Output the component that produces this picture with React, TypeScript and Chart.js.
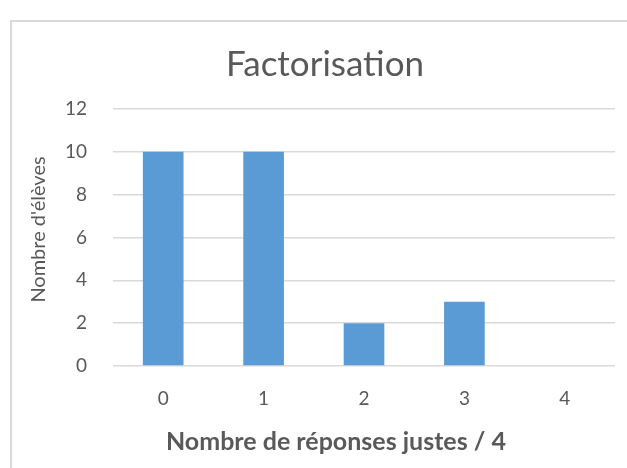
import React, { useEffect, useRef } from "react";
import { Chart, registerables } from "chart.js";

Chart.register(...registerables);

const categories = ["0", "1", "2", "3", "4"];
const counts = [10, 10, 2, 3, 0];
const chartTitle = "Factorisation";
const xTitle = "Nombre de réponses justes / 4";
const yTitle = "Nombre d'élèves";
const yMin = 0;
const yMax = 12;
const yStep = 2;

const FONT = "Lato, 'Open Sans', sans-serif";
const TEXT = "#595959";

const axisText = {
  id: "axisText",
  afterDraw(chart: any) {
    const { ctx, chartArea } = chart;
    const { left, right, top, bottom } = chartArea;
    const yScale = chart.scales.y;
    ctx.save();
    ctx.fillStyle = TEXT;
    // y tick labels, placed through the y scale
    ctx.font = `19px ${FONT}`;
    ctx.textAlign = "right";
    ctx.textBaseline = "middle";
    for (const t of yScale.ticks) {
      ctx.fillText(String(t.value), left - 26, yScale.getPixelForValue(t.value));
    }
    // x axis title
    ctx.textAlign = "center";
    ctx.font = `bold 25px ${FONT}`;
    ctx.fillText(xTitle, (left + right) / 2 - 28, bottom + 76);
    // y axis title
    ctx.font = `20px ${FONT}`;
    ctx.translate(left - 74, (top + bottom) / 2 - 8);
    ctx.rotate(-Math.PI / 2);
    ctx.fillText(yTitle, 0, 0);
    ctx.restore();
  },
};

export default function App() {
  const ref = useRef<HTMLCanvasElement | null>(null);

  useEffect(() => {
    if (!ref.current) return;
    const chart = new Chart(ref.current, {
      type: "bar",
      data: {
        labels: categories,
        datasets: [
          {
            data: counts,
            backgroundColor: "#5B9BD5",
            borderWidth: 0,
            barPercentage: 0.405,
            categoryPercentage: 1,
          },
        ],
      },
      options: {
        responsive: false,
        animation: false,
        layout: { padding: { left: 35, right: 12, top: 0, bottom: 0 } },
        plugins: {
          legend: { display: false },
          tooltip: { enabled: false },
          title: {
            display: true,
            text: chartTitle,
            color: TEXT,
            font: { family: FONT, size: 35, weight: "normal" },
            padding: { top: 44, bottom: 23 },
          },
        },
        scales: {
          x: {
            grid: { display: false, drawTicks: false },
            border: { display: false },
            ticks: {
              color: TEXT,
              font: { family: FONT, size: 19 },
              padding: 21,
            },
            afterFit: (scale: any) => {
              scale.height = 102;
            },
          },
          y: {
            min: yMin,
            max: yMax,
            grid: { color: "#D9D9D9", lineWidth: 1.5, drawTicks: false },
            border: { display: false },
            ticks: {
              stepSize: yStep,
              display: false,
            },
            afterFit: (scale: any) => {
              scale.width = 78;
            },
          },
        },
      },
      plugins: [axisText],
    });
    return () => chart.destroy();
  }, []);

  return (
    <div style={{ position: "absolute", left: 0, top: 0, width: 627, height: 468, overflow: "hidden", background: "#fff" }}>
      <div
        style={{
          position: "absolute",
          left: 10,
          top: 20,
          width: 700,
          height: 600,
          borderLeft: "2px solid #D9D9D9",
          borderTop: "2px solid #D9D9D9",
        }}
      />
      <canvas ref={ref} width={627} height={468} style={{ position: "absolute", left: 0, top: 0 }} />
    </div>
  );
}
